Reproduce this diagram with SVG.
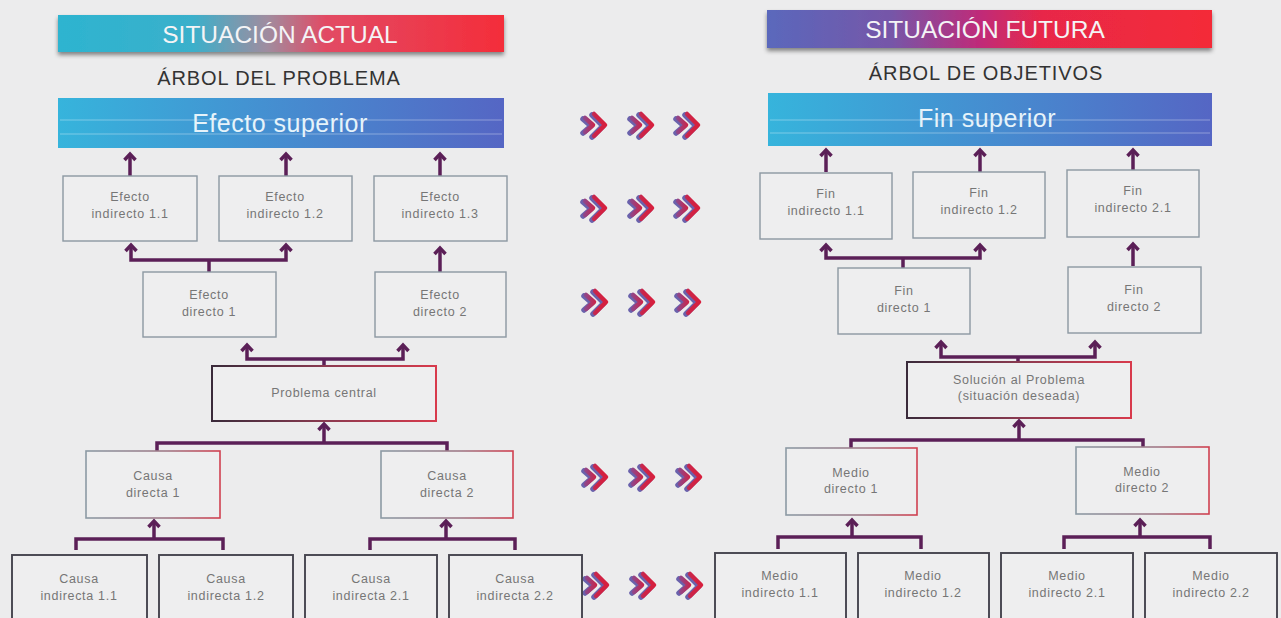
<svg xmlns="http://www.w3.org/2000/svg" xmlns:xlink="http://www.w3.org/1999/xlink" width="1281" height="618" viewBox="0 0 1281 618">
<style>
.bg{fill:#ececed}
.box{fill:#eeeeef;stroke:#8c98a2;stroke-width:1.4}
.boxd{fill:#eeeeef;stroke:url(#gBorder);stroke-width:1.6}
.boxc{fill:#eeeeef;stroke:url(#gCentral);stroke-width:2}
.boxb{fill:#eeeeef;stroke:#45444e;stroke-width:1.9}
.t{font-family:"Liberation Sans",Arial,sans-serif;font-size:12.5px;fill:#767676;text-anchor:middle;letter-spacing:0.7px}
.hd{font-family:"Liberation Sans",Arial,sans-serif;font-size:24.5px;fill:#f4f4f6;text-anchor:middle}
.sub{font-family:"Liberation Sans",Arial,sans-serif;font-size:20px;fill:#333;text-anchor:middle;letter-spacing:0.9px}
.sup{font-family:"Liberation Sans",Arial,sans-serif;font-size:25px;fill:#e6f3fa;text-anchor:middle;letter-spacing:0.5px}
.ln{fill:none;stroke:#ffffff;stroke-opacity:0.35;stroke-width:1}
.cn{fill:none;stroke:#5b1f57;stroke-width:3.5;stroke-linejoin:miter}
.ar{marker-end:url(#ah)}
.ar2{marker-start:url(#ah);marker-end:url(#ah)}
</style>
<defs>
<linearGradient id="gHeadL" x1="0" y1="0" x2="1" y2="0">
<stop offset="0" stop-color="#2db4d0"/><stop offset="0.3" stop-color="#3ab0cb"/><stop offset="0.47" stop-color="#a08c9f"/><stop offset="0.6" stop-color="#e24a64"/><stop offset="1" stop-color="#f42d3a"/>
</linearGradient>
<linearGradient id="gHeadR" x1="0" y1="0" x2="1" y2="0">
<stop offset="0" stop-color="#5a68bc"/><stop offset="0.28" stop-color="#7656a8"/><stop offset="0.48" stop-color="#c02a78"/><stop offset="0.62" stop-color="#e82848"/><stop offset="1" stop-color="#f42a38"/>
</linearGradient>
<linearGradient id="gBlue" x1="0" y1="0" x2="1" y2="0">
<stop offset="0" stop-color="#36b4dc"/><stop offset="1" stop-color="#5566c4"/>
</linearGradient>
<linearGradient id="gBorder" x1="0" y1="0" x2="1" y2="0">
<stop offset="0" stop-color="#8c9aa4"/><stop offset="0.6" stop-color="#a07a88"/><stop offset="1" stop-color="#d04050"/>
</linearGradient>
<linearGradient id="gCentral" x1="0" y1="0" x2="1" y2="0">
<stop offset="0" stop-color="#3a2a3a"/><stop offset="0.5" stop-color="#8a3a50"/><stop offset="1" stop-color="#d83a4c"/>
</linearGradient>
<linearGradient id="gChev" gradientUnits="userSpaceOnUse" x1="2" y1="0" x2="26" y2="0">
<stop offset="0" stop-color="#8a4a90"/><stop offset="0.5" stop-color="#cc2448"/><stop offset="1" stop-color="#d81f3c"/>
</linearGradient>
<filter id="sh" x="-5%" y="-30%" width="110%" height="180%">
<feDropShadow dx="0" dy="3" stdDeviation="2" flood-color="#000" flood-opacity="0.45"/>
</filter>
<marker id="ah" markerUnits="userSpaceOnUse" viewBox="-10 -10 20 20" markerWidth="20" markerHeight="20" refX="0" refY="0" orient="auto-start-reverse">
<path d="M-6,-5.5 L0,0 L-6,5.5" fill="none" stroke="#5b1f57" stroke-width="3.5"/>
</marker>
<g id="chev">
<path d="M2,7 L10,14 L2,21 M11,3 L22,14 L11,25" fill="none" stroke="#6a62ac" stroke-width="5.5" stroke-linejoin="round" stroke-linecap="round"/>
<path d="M4,6 L12,13 L4,20 M13,2 L24,13 L13,24" fill="none" stroke="url(#gChev)" stroke-width="4.5" stroke-linejoin="round" stroke-linecap="round"/>
</g>
</defs>
<rect class="bg" x="0" y="0" width="1281" height="618"/>

<g id="header-left">
<rect x="58" y="15" width="446" height="37" fill="url(#gHeadL)" filter="url(#sh)"/>
<text class="hd" x="280" y="43">SITUACIÓN ACTUAL</text>
<text class="sub" x="279" y="85">ÁRBOL DEL PROBLEMA</text>
</g>
<g id="header-right">
<rect x="767" y="10" width="445" height="38" fill="url(#gHeadR)" filter="url(#sh)"/>
<text class="hd" x="985" y="38">SITUACIÓN FUTURA</text>
<text class="sub" x="986" y="80">ÁRBOL DE OBJETIVOS</text>
</g>

<g id="efecto-superior">
<rect x="58" y="98" width="446" height="50" fill="url(#gBlue)"/>
<path class="ln" d="M60,120 H502 M60,134 H502"/>
<text class="sup" x="280" y="132">Efecto superior</text>
</g>
<g id="fin-superior">
<rect x="768" y="93" width="444" height="53" fill="url(#gBlue)"/>
<path class="ln" d="M770,120 H1210 M770,133 H1210"/>
<text class="sup" x="987" y="127">Fin superior</text>
</g>

<g id="connectors">
<path class="cn ar" d="M130,176 V154"/>
<path class="cn ar" d="M286,176 V154"/>
<path class="cn ar" d="M440,176 V154"/>
<path class="cn ar2" d="M131,245 V260 H286 V245"/>
<path class="cn" d="M209,260 V272"/>
<path class="cn ar" d="M440,272 V248"/>
<path class="cn ar2" d="M247,345 V359 H403 V345"/>
<path class="cn" d="M324,359 V366"/>
<path class="cn" d="M157,451 V443 H447 V451"/>
<path class="cn ar" d="M324,443 V424"/>
<path class="cn" d="M76,550 V539 H223 V550"/>
<path class="cn ar" d="M154,539 V521"/>
<path class="cn" d="M370,550 V539 H515 V550"/>
<path class="cn ar" d="M446,539 V521"/>

<path class="cn ar" d="M826,172 V150"/>
<path class="cn ar" d="M980,172 V150"/>
<path class="cn ar" d="M1133,170 V150"/>
<path class="cn ar2" d="M826,245 V258 H980 V245"/>
<path class="cn" d="M903,258 V268"/>
<path class="cn ar" d="M1133,266 V244"/>
<path class="cn ar2" d="M941,342 V357 H1095 V342"/>
<path class="cn" d="M1018,357 V362"/>
<path class="cn" d="M851,448 V440 H1143 V448"/>
<path class="cn ar" d="M1019,440 V421"/>
<path class="cn" d="M778,549 V537 H921 V549"/>
<path class="cn ar" d="M852,537 V520"/>
<path class="cn" d="M1064,549 V537 H1210 V549"/>
<path class="cn ar" d="M1140,537 V520"/>
</g>

<g id="chevrons">
<use href="#chev" x="581" y="112"/><use href="#chev" x="628" y="112"/><use href="#chev" x="674" y="112"/>
<use href="#chev" x="581" y="195"/><use href="#chev" x="628" y="195"/><use href="#chev" x="674" y="195"/>
<use href="#chev" x="582" y="289"/><use href="#chev" x="629" y="289"/><use href="#chev" x="675" y="289"/>
<use href="#chev" x="582" y="464"/><use href="#chev" x="629" y="464"/><use href="#chev" x="676" y="464"/>
<use href="#chev" x="583" y="572"/><use href="#chev" x="630" y="572"/><use href="#chev" x="677" y="572"/>
</g>

<g id="efecto-indirecto-1-1"><rect class="box" x="63" y="176" width="134" height="65"/><text class="t" x="130" y="201">Efecto</text><text class="t" x="130" y="218">indirecto 1.1</text></g>
<g id="efecto-indirecto-1-2"><rect class="box" x="219" y="176" width="133" height="65"/><text class="t" x="285" y="201">Efecto</text><text class="t" x="285" y="218">indirecto 1.2</text></g>
<g id="efecto-indirecto-1-3"><rect class="box" x="374" y="176" width="133" height="65"/><text class="t" x="440" y="201">Efecto</text><text class="t" x="440" y="218">indirecto 1.3</text></g>
<g id="efecto-directo-1"><rect class="box" x="143" y="272" width="133" height="65"/><text class="t" x="209" y="299">Efecto</text><text class="t" x="209" y="316">directo 1</text></g>
<g id="efecto-directo-2"><rect class="box" x="375" y="272" width="131" height="65"/><text class="t" x="440" y="299">Efecto</text><text class="t" x="440" y="316">directo 2</text></g>
<g id="problema-central"><rect class="boxc" x="212" y="366" width="224" height="55"/><text class="t" x="324" y="397">Problema central</text></g>
<g id="causa-directa-1"><rect class="boxd" x="86" y="451" width="134" height="67"/><text class="t" x="153" y="480">Causa</text><text class="t" x="153" y="497">directa 1</text></g>
<g id="causa-directa-2"><rect class="boxd" x="381" y="451" width="132" height="67"/><text class="t" x="447" y="480">Causa</text><text class="t" x="447" y="497">directa 2</text></g>
<g id="causa-indirecta-1-1"><rect class="boxb" x="12" y="555" width="135" height="70"/><text class="t" x="79" y="583">Causa</text><text class="t" x="79" y="600">indirecta 1.1</text></g>
<g id="causa-indirecta-1-2"><rect class="boxb" x="159" y="555" width="134" height="70"/><text class="t" x="226" y="583">Causa</text><text class="t" x="226" y="600">indirecta 1.2</text></g>
<g id="causa-indirecta-2-1"><rect class="boxb" x="305" y="555" width="132" height="70"/><text class="t" x="371" y="583">Causa</text><text class="t" x="371" y="600">indirecta 2.1</text></g>
<g id="causa-indirecta-2-2"><rect class="boxb" x="449" y="555" width="133" height="70"/><text class="t" x="515" y="583">Causa</text><text class="t" x="515" y="600">indirecta 2.2</text></g>

<g id="fin-indirecto-1-1"><rect class="box" x="760" y="173" width="132" height="66"/><text class="t" x="826" y="198">Fin</text><text class="t" x="826" y="215">indirecto 1.1</text></g>
<g id="fin-indirecto-1-2"><rect class="box" x="913" y="172" width="132" height="66"/><text class="t" x="979" y="197">Fin</text><text class="t" x="979" y="214">indirecto 1.2</text></g>
<g id="fin-indirecto-2-1"><rect class="box" x="1067" y="170" width="132" height="67"/><text class="t" x="1133" y="195">Fin</text><text class="t" x="1133" y="212">indirecto 2.1</text></g>
<g id="fin-directo-1"><rect class="box" x="838" y="268" width="132" height="66"/><text class="t" x="904" y="295">Fin</text><text class="t" x="904" y="312">directo 1</text></g>
<g id="fin-directo-2"><rect class="box" x="1068" y="267" width="133" height="66"/><text class="t" x="1134" y="294">Fin</text><text class="t" x="1134" y="311">directo 2</text></g>
<g id="solucion-problema"><rect class="boxc" x="907" y="362" width="224" height="56"/><text class="t" x="1019" y="384">Solución al Problema</text><text class="t" x="1019" y="400">(situación deseada)</text></g>
<g id="medio-directo-1"><rect class="boxd" x="786" y="448" width="131" height="67"/><text class="t" x="851" y="477">Medio</text><text class="t" x="851" y="493">directo 1</text></g>
<g id="medio-directo-2"><rect class="boxd" x="1076" y="447" width="133" height="67"/><text class="t" x="1142" y="476">Medio</text><text class="t" x="1142" y="492">directo 2</text></g>
<g id="medio-indirecto-1-1"><rect class="boxb" x="715" y="553" width="131" height="70"/><text class="t" x="780" y="580">Medio</text><text class="t" x="780" y="597">indirecto 1.1</text></g>
<g id="medio-indirecto-1-2"><rect class="boxb" x="858" y="553" width="131" height="70"/><text class="t" x="923" y="580">Medio</text><text class="t" x="923" y="597">indirecto 1.2</text></g>
<g id="medio-indirecto-2-1"><rect class="boxb" x="1001" y="553" width="132" height="70"/><text class="t" x="1067" y="580">Medio</text><text class="t" x="1067" y="597">indirecto 2.1</text></g>
<g id="medio-indirecto-2-2"><rect class="boxb" x="1145" y="553" width="132" height="70"/><text class="t" x="1211" y="580">Medio</text><text class="t" x="1211" y="597">indirecto 2.2</text></g>
</svg>
